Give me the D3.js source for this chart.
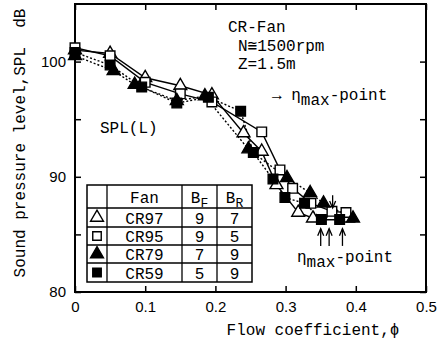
<!DOCTYPE html>
<html>
<head>
<meta charset="utf-8">
<script src="https://cdn.jsdelivr.net/npm/d3@7"></script>
<style>
  body { margin: 0; background: #fff; }
  svg { display: block; font-family: "Liberation Mono", "DejaVu Sans Mono", monospace; }
  .tick line { stroke: #000; stroke-width: 1.5; }
  .tick text { font-size: 15px; fill: #000; }
</style>
</head>
<body>
<svg width="443" height="340"></svg>
<script>
// fan series: flow coefficient phi, SPL in dB
const cr97Phi = [0, 0.05, 0.1, 0.15, 0.195, 0.24, 0.266, 0.287, 0.318, 0.339, 0.366, 0.389];
const cr97Spl = [101.0, 100.7, 98.6, 97.9, 97.1, 93.8, 92.2, 89.3, 86.9, 86.4, 86.6, 86.4];
const cr95Phi = [0, 0.05, 0.1, 0.15, 0.195, 0.266, 0.292, 0.31, 0.336, 0.366, 0.386];
const cr95Spl = [101.2, 100.5, 98.2, 97.2, 96.5, 93.9, 90.6, 89.0, 87.7, 87.0, 86.9];
const cr79Phi = [0, 0.055, 0.085, 0.145, 0.185, 0.247, 0.302, 0.335, 0.354, 0.396];
const cr79Spl = [100.5, 99.2, 98.0, 96.6, 97.0, 92.4, 89.9, 88.6, 87.7, 86.4];
const cr59Phi = [0, 0.05, 0.095, 0.145, 0.19, 0.236, 0.254, 0.282, 0.299, 0.327, 0.351, 0.377];
const cr59Spl = [100.8, 99.7, 97.8, 96.4, 96.9, 95.7, 92.1, 89.8, 88.2, 87.7, 86.3, 86.3];

const fanNames = ['CR97', 'CR95', 'CR79', 'CR59'];
const bladesFront = [9, 9, 7, 5];
const bladesRear = [7, 5, 9, 9];

const xTicks = [0, 0.1, 0.2, 0.3, 0.4, 0.5];
const yTicks = [80, 85, 90, 95, 100];
const yTickLabels = ['80', '', '90', '', '100'];

// eta max markers
const upArrowPhi = [0.35, 0.362, 0.381];
const downArrowPhi = [0.367];

const svg = d3.select('svg');
const x = d3.scaleLinear().domain([0, 0.5]).range([75, 426]);
const y = d3.scaleLinear().domain([80, 105]).range([292, 4]);

svg.append('rect').attr('width', 443).attr('height', 340).attr('fill', '#fff');

// axes with inward ticks on all four sides
const xAxis = d3.axisBottom(x).tickValues(xTicks).tickSize(-6).tickPadding(9)
  .tickFormat(d => d === 0 ? '0' : d3.format('.1f')(d));
svg.append('g').attr('transform', 'translate(0,292)').call(xAxis).call(g => g.select('.domain').remove());
svg.append('g').attr('transform', 'translate(0,4)')
  .call(d3.axisTop(x).tickValues(xTicks).tickSize(-6).tickFormat(''))
  .call(g => g.select('.domain').remove());

const yAxis = d3.axisLeft(y).tickValues(yTicks).tickSize(-6).tickPadding(9)
  .tickFormat((d, i) => yTickLabels[i]);
svg.append('g').attr('transform', 'translate(75,0)').call(yAxis).call(g => g.select('.domain').remove());
svg.append('g').attr('transform', 'translate(426,0)')
  .call(d3.axisRight(y).tickValues(yTicks).tickSize(-6).tickFormat(''))
  .call(g => g.select('.domain').remove());

svg.append('rect')
  .attr('x', x(0)).attr('y', y(105))
  .attr('width', x(0.5) - x(0)).attr('height', y(80) - y(105))
  .attr('fill', 'none').attr('stroke', '#000').attr('stroke-width', 2);

// axis titles
svg.append('text')
  .attr('x', 313).attr('y', 335)
  .attr('text-anchor', 'middle').style('font-size', '16px')
  .text('Flow coefficient,\u03d5');
svg.append('text')
  .attr('transform', 'translate(25,143) rotate(-90)')
  .attr('text-anchor', 'middle').style('font-size', '16px')
  .attr('xml:space', 'preserve')
  .text('Sound pressure level,SPL  dB');

// series
const series = [
  { phi: cr97Phi, spl: cr97Spl, sym: d3.symbolTriangle, fill: '#fff', dash: null },
  { phi: cr95Phi, spl: cr95Spl, sym: d3.symbolSquare, fill: '#fff', dash: null },
  { phi: cr79Phi, spl: cr79Spl, sym: d3.symbolTriangle, fill: '#000', dash: '2,2' },
  { phi: cr59Phi, spl: cr59Spl, sym: d3.symbolSquare, fill: '#000', dash: '2,2' }
];
const symSize = s => s.sym === d3.symbolSquare ? 92 : 72;
const line = d3.line().x(d => x(d[0])).y(d => y(d[1]));

series.forEach(s => {
  const pts = s.phi.map((p, i) => [p, s.spl[i]]);
  svg.append('path')
    .attr('d', line(pts))
    .attr('fill', 'none').attr('stroke', '#000').attr('stroke-width', 1.4)
    .attr('stroke-dasharray', s.dash);
});
series.forEach(s => {
  const pts = s.phi.map((p, i) => [p, s.spl[i]]);
  svg.selectAll(null).data(pts).enter().append('path')
    .attr('d', d3.symbol().type(s.sym).size(symSize(s)))
    .attr('transform', d => 'translate(' + x(d[0]) + ',' + y(d[1]) + ')')
    .attr('fill', s.fill).attr('stroke', '#000').attr('stroke-width', 1.4);
});

// notes
const note = svg.append('g').style('font-size', '16px');
note.append('text').attr('x', 228).attr('y', 32).text('CR-Fan');
note.append('text').attr('x', 238).attr('y', 51).text('N\u22451500rpm');
note.append('text').attr('x', 238).attr('y', 69).text('Z=1.5m');
note.append('text').attr('x', 100).attr('y', 133).text('SPL(L)');

const eta1 = note.append('text').attr('x', 272).attr('y', 100).attr('xml:space', 'preserve');
eta1.append('tspan').text('\u2192 \u03b7');
eta1.append('tspan').attr('dy', 5).text('max');
eta1.append('tspan').attr('dy', -5).text('-point');

const eta2 = note.append('text').attr('x', 297).attr('y', 262);
eta2.append('tspan').text('\u03b7');
eta2.append('tspan').attr('dy', 5).text('max');
eta2.append('tspan').attr('dy', -5).text('-point');

const arrowHead = (g, px, yTip, dir) => {
  g.append('path')
    .attr('d', 'M' + (px - 3) + ',' + (yTip + dir * 7) + 'L' + px + ',' + yTip + 'L' + (px + 3) + ',' + (yTip + dir * 7))
    .attr('fill', 'none').attr('stroke', '#000').attr('stroke-width', 1.3);
};
const arrows = svg.append('g');
upArrowPhi.forEach(p => {
  arrows.append('line').attr('x1', x(p)).attr('x2', x(p)).attr('y1', y(84.0)).attr('y2', y(85.5))
    .attr('stroke', '#000').attr('stroke-width', 1.3);
  arrowHead(arrows, x(p), y(85.5), 1);
});
downArrowPhi.forEach(p => {
  arrows.append('line').attr('x1', x(p)).attr('x2', x(p)).attr('y1', y(88.4)).attr('y2', y(87.3))
    .attr('stroke', '#000').attr('stroke-width', 1.3);
  arrowHead(arrows, x(p), y(87.3), -1);
});

// legend table
const colX = [87, 107, 182, 217, 252];
const rowY = [185, 208, 227, 245, 263, 282];
const table = svg.append('g');
table.append('rect')
  .attr('x', colX[0]).attr('y', rowY[0])
  .attr('width', colX[4] - colX[0]).attr('height', rowY[5] - rowY[0])
  .attr('fill', '#fff').attr('stroke', '#000').attr('stroke-width', 1.5);
colX.slice(1, 4).forEach(cx => {
  table.append('line').attr('x1', cx).attr('x2', cx).attr('y1', rowY[0]).attr('y2', rowY[5])
    .attr('stroke', '#000').attr('stroke-width', 1.3);
});
rowY.slice(1, 5).forEach(ry => {
  table.append('line').attr('x1', colX[0]).attr('x2', colX[4]).attr('y1', ry).attr('y2', ry)
    .attr('stroke', '#000').attr('stroke-width', 1.3);
});
const mid = (a, b) => (a + b) / 2;
const head = table.append('g').style('font-size', '16px').attr('text-anchor', 'middle');
head.append('text').attr('x', mid(colX[1], colX[2])).attr('y', 203).text('Fan');
const bf = head.append('text').attr('x', mid(colX[2], colX[3])).attr('y', 203);
bf.append('tspan').text('B');
bf.append('tspan').attr('dy', 4).style('font-size', '13px').text('F');
const br = head.append('text').attr('x', mid(colX[3], colX[4])).attr('y', 203);
br.append('tspan').text('B');
br.append('tspan').attr('dy', 4).style('font-size', '13px').text('R');

fanNames.forEach((name, i) => {
  const cy = mid(rowY[i + 1], rowY[i + 2]);
  const s = series[i];
  table.append('path')
    .attr('d', d3.symbol().type(s.sym).size(72))
    .attr('transform', 'translate(' + mid(colX[0], colX[1]) + ',' + cy + ')')
    .attr('fill', s.fill).attr('stroke', '#000').attr('stroke-width', 1.4);
  const row = table.append('g').style('font-size', '16px').attr('text-anchor', 'middle');
  row.append('text').attr('x', mid(colX[1], colX[2])).attr('y', cy + 6).text(name);
  row.append('text').attr('x', mid(colX[2], colX[3])).attr('y', cy + 6).text(bladesFront[i]);
  row.append('text').attr('x', mid(colX[3], colX[4])).attr('y', cy + 6).text(bladesRear[i]);
});
</script>
</body>
</html>
